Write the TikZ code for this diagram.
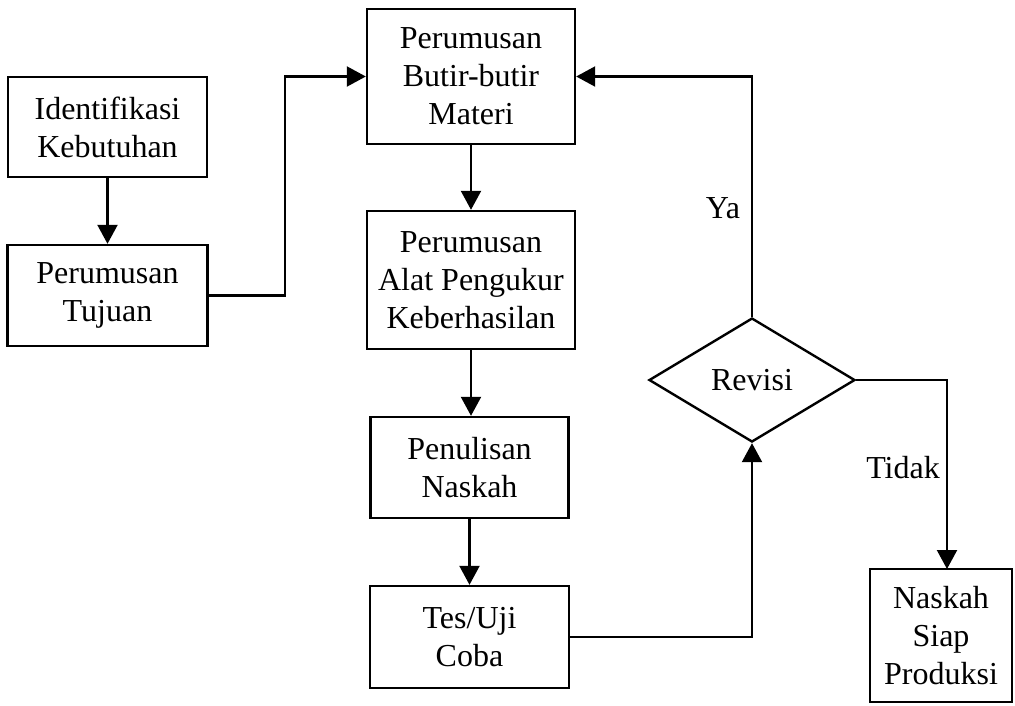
\documentclass[tikz,border=0pt]{standalone}
\usepackage{fontspec}
\setmainfont{Liberation Serif}
\usetikzlibrary{shapes.geometric,arrows.meta}
\begin{document}
\begin{tikzpicture}[x=1pt,y=-1pt,
  box/.style={draw,line width=2.4pt,inner sep=0pt,align=center,font=\fontsize{32}{38}\selectfont},
  conn/.style={line width=2.2pt},
  arr/.style={conn,-{Triangle[width=20pt,length=19pt]}},
  lbl/.style={font=\fontsize{32}{38}\selectfont}]
\useasboundingbox (0,0) rectangle (1015,705);
\node[box,minimum width=199pt,minimum height=100pt] (iden) at (107.5,127) {Identifikasi\\Kebutuhan};
\node[box,minimum width=200pt,minimum height=101pt] (tuj) at (107.5,295.5) {Perumusan\\Tujuan};
\node[box,minimum width=208pt,minimum height=135pt] (butir) at (471,76.5) {Perumusan\\Butir-butir\\Materi};
\node[box,minimum width=208pt,minimum height=138pt] (alat) at (471,280) {Perumusan\\Alat Pengukur\\Keberhasilan};
\node[box,minimum width=198pt,minimum height=101pt] (pen) at (469.5,467.5) {Penulisan\\Naskah};
\node[box,minimum width=199pt,minimum height=102pt] (tes) at (469.5,637) {Tes/Uji\\Coba};
\node[box,diamond,aspect=1.66,minimum width=206pt,minimum height=124pt] (rev) at (752,380) {Revisi};
\node[box,minimum width=142pt,minimum height=133pt] (nask) at (941,635.5) {Naskah\\Siap\\Produksi};
\coordinate (nasktop) at (947,569);
\draw[arr] (iden.south) -- (tuj.north);
\draw[arr] (tuj.east) -- ++(76,0) |- (butir.west);
\draw[arr] (butir.south) -- (alat.north);
\draw[arr] (alat.south) -- (alat.south |- pen.north);
\draw[arr] (pen.south) -- (tes.north);
\draw[arr] (tes.east) -| (rev.south);
\draw[arr] (rev.north) |- (butir.east);
\draw[arr] (rev.east) -| (nasktop);
\node[lbl] (ya) at (723,208) {Ya};
\node[lbl] (tidak) at (903,468) {Tidak};
\end{tikzpicture}
\end{document}
